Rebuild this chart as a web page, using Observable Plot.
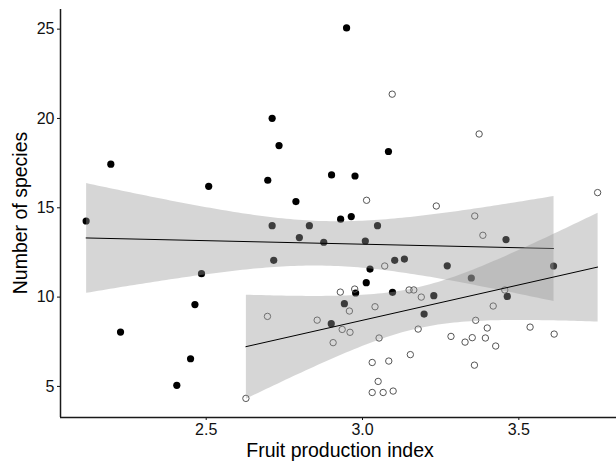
<!DOCTYPE html>
<html>
<head>
<meta charset="utf-8">
<script src="https://cdn.jsdelivr.net/npm/d3@7"></script>
<script src="https://cdn.jsdelivr.net/npm/@observablehq/plot@0.6"></script>
<style>
  html, body { margin: 0; padding: 0; background: #fff; }
  svg { display: block; }
</style>
</head>
<body>
<div id="chart"></div>
<script>
// Filled (black) points
const filledX = [2.116, 2.195, 2.226, 2.406, 2.450, 2.464, 2.485, 2.508, 2.697, 2.711,
                 2.711, 2.716, 2.733, 2.787, 2.798, 2.830, 2.876, 2.900, 2.901, 2.930,
                 2.942, 2.949, 2.964, 2.976, 2.978, 3.009, 3.012, 3.024, 3.048, 3.083,
                 3.096, 3.103, 3.134, 3.197, 3.228, 3.271, 3.348, 3.459, 3.463, 3.611];
const filledY = [14.26, 17.44, 8.04, 5.06, 6.55, 9.58, 11.31, 16.20, 16.54, 20.01,
                 14.00, 12.06, 18.48, 15.35, 13.33, 14.00, 13.07, 8.51, 16.84, 14.36,
                 9.63, 25.07, 14.51, 16.78, 10.23, 13.14, 10.81, 11.57, 14.00, 18.15,
                 10.27, 12.06, 12.13, 9.05, 10.08, 11.75, 11.07, 13.22, 10.04, 11.74];
// Open circle points
const openX = [2.627, 2.696, 2.855, 2.906, 2.929, 2.935, 2.958, 2.960, 2.975, 3.013,
               3.031, 3.031, 3.040, 3.050, 3.053, 3.066, 3.071, 3.084, 3.095, 3.098,
               3.149, 3.153, 3.164, 3.178, 3.188, 3.236, 3.283, 3.328, 3.351, 3.358,
               3.359, 3.362, 3.373, 3.385, 3.393, 3.399, 3.418, 3.426, 3.455, 3.536,
               3.613, 3.752];
const openY = [4.33, 8.92, 8.71, 7.45, 10.28, 8.19, 9.22, 8.03, 10.45, 15.42,
               6.34, 4.66, 9.46, 5.28, 7.71, 4.66, 11.74, 6.42, 21.36, 4.74,
               10.40, 6.78, 10.40, 8.21, 10.00, 15.10, 7.80, 7.48, 7.73, 6.19,
               14.54, 8.70, 19.13, 13.46, 7.71, 8.27, 9.50, 7.26, 10.40, 8.32,
               7.93, 15.85];

const xTicks = [2.5, 3.0, 3.5];
const yTicks = [5, 10, 15, 20, 25];
const xDomain = [2.034, 3.8124];
const yDomain = [3.26, 26.1];
const xTitle = "Fruit production index";
const yTitle = "Number of species";

const filled = filledX.map((x, i) => ({x, y: filledY[i]}));
const open = openX.map((x, i) => ({x, y: openY[i]}));

const band = {x: "x", y: "y", stroke: "black", strokeWidth: 1, fill: "#999999", fillOpacity: 0.4};

const chart = Plot.plot({
  width: 616,
  height: 462,
  marginLeft: 60,
  marginRight: 0,
  marginTop: 9,
  marginBottom: 45,
  style: {fontFamily: "'Liberation Sans', Arial, sans-serif", fontSize: "16px", color: "#111", background: "#fff"},
  x: {domain: xDomain, ticks: xTicks, tickFormat: d3.format(".1f"), tickSize: 3, tickPadding: 3, label: null},
  y: {domain: yDomain, ticks: yTicks, tickSize: 3, tickPadding: 3, label: null},
  marks: [
    Plot.dot(filled, {x: "x", y: "y", r: 3.6, fill: "black", stroke: "none"}),
    Plot.dot(open, {x: "x", y: "y", r: 3.2, fill: "none", stroke: "#555", strokeWidth: 1}),
    Plot.linearRegressionY(filled, band),
    Plot.linearRegressionY(open, band),
    Plot.ruleX([xDomain[0]], {stroke: "#1a1a1a", strokeWidth: 1.5}),
    Plot.ruleY([yDomain[0]], {stroke: "#1a1a1a", strokeWidth: 1.5})
  ]
});

const svg = d3.select(chart);
svg.append("text")
  .attr("x", 340).attr("y", 456.5)
  .attr("text-anchor", "middle")
  .attr("font-size", 19.5)
  .attr("fill", "#000")
  .text(xTitle);
svg.append("text")
  .attr("transform", "translate(27,213) rotate(-90)")
  .attr("text-anchor", "middle")
  .attr("font-size", 19.5)
  .attr("fill", "#000")
  .text(yTitle);

document.getElementById("chart").appendChild(chart);
</script>
</body>
</html>
